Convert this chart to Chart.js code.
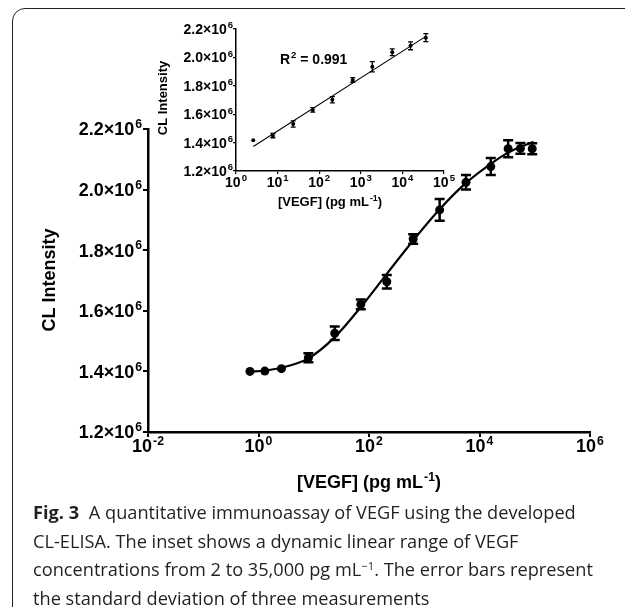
<!DOCTYPE html>
<html>
<head>
<meta charset="utf-8">
<script src="https://cdn.jsdelivr.net/npm/chart.js@4.4.1/dist/chart.umd.min.js"></script>
<style>
  html, body { margin: 0; padding: 0; background: #fff; }
  body { width: 625px; height: 607px; position: relative; overflow: hidden; }
  #marco {
    position: absolute; left: 12px; top: 8px; width: 660px; height: 614px;
    border: 1.5px solid #222; border-radius: 13px; box-sizing: border-box;
  }
  #principal { position: absolute; left: 0; top: 0; }
  #recuadro { position: absolute; left: 150px; top: 10px; }
  #pie {
    position: absolute; left: 33px; top: 498px;
    font-family: "Open Sans", sans-serif; font-size: 18.2px; line-height: 28.5px;
    color: #231f20; white-space: nowrap;
  }
  #pie b { font-weight: 700; margin-right: 5px; }
  #pie sup { font-size: 0.62em; line-height: 0; vertical-align: 0.55em; }
</style>
</head>
<body>
<div id="marco"></div>
<canvas id="principal" width="625" height="500"></canvas>
<canvas id="recuadro" width="320" height="210"></canvas>
<div id="pie">
  <b>Fig. 3</b> A quantitative immunoassay of VEGF using the developed<br>
  CL-ELISA. The inset shows a dynamic linear range of VEGF<br>
  concentrations from 2 to 35,000 pg mL<sup>−1</sup>. The error bars represent<br>
  the standard deviation of three measurements
</div>
<script>
// datos
const concPrincipal = [0.7, 1.3, 2.6, 8, 24, 71, 210, 630, 1900, 5700, 16000, 33000, 55000, 90000];
const intensidadPrincipal = [1.400e6, 1.401e6, 1.409e6, 1.445e6, 1.526e6, 1.621e6, 1.696e6, 1.837e6, 1.933e6, 2.024e6, 2.076e6, 2.135e6, 2.136e6, 2.135e6];
const errorPrincipal = [0.003e6, 0.003e6, 0.004e6, 0.015e6, 0.022e6, 0.016e6, 0.022e6, 0.016e6, 0.036e6, 0.024e6, 0.028e6, 0.028e6, 0.018e6, 0.018e6];

// curva de ajuste
const curvaConc = [0.7, 1.3, 2.6, 8, 24, 71, 210, 630, 1900, 5700, 16000, 33000, 55000, 95000];
const curvaIntensidad = [1.399e6, 1.403e6, 1.412e6, 1.443e6, 1.513e6, 1.612e6, 1.722e6, 1.832e6, 1.935e6, 2.022e6, 2.085e6, 2.122e6, 2.141e6, 2.158e6];

const concRecuadro = [2.6, 7.7, 23.7, 70, 207, 640, 1890, 5690, 15700, 36600];
const intensidadRecuadro = [1.416e6, 1.449e6, 1.531e6, 1.630e6, 1.702e6, 1.841e6, 1.934e6, 2.036e6, 2.082e6, 2.139e6];
const errorRecuadro = [0.003e6, 0.015e6, 0.022e6, 0.016e6, 0.022e6, 0.016e6, 0.036e6, 0.024e6, 0.028e6, 0.028e6];

const ajusteX = [2.6, 36600];
const ajusteY = [1.372e6, 2.148e6];

const ticksXPrincipal = [0.01, 1, 100, 1e4, 1e6];
const etiquetasXPrincipal = ["10^-2", "10^0", "10^2", "10^4", "10^6"];
const ticksXRecuadro = [1, 10, 100, 1e3, 1e4, 1e5];
const etiquetasXRecuadro = ["10^0", "10^1", "10^2", "10^3", "10^4", "10^5"];
const ticksY = [1.2e6, 1.4e6, 1.6e6, 1.8e6, 2.0e6, 2.2e6];
const etiquetasY = ["1.2×10^6", "1.4×10^6", "1.6×10^6", "1.8×10^6", "2.0×10^6", "2.2×10^6"];

const FUENTE = '"Liberation Sans", Arial, sans-serif';
const SUP = 0.68;

// texto con exponente: "base^exp"
function textoSup(ctx, texto, x, y, tam, alinear) {
  const [base, exp] = texto.split("^");
  const tamSup = tam * SUP;
  ctx.font = "bold " + tam + "px " + FUENTE;
  const wBase = ctx.measureText(base).width;
  ctx.font = "bold " + tamSup + "px " + FUENTE;
  const wExp = exp ? ctx.measureText(exp).width + 1 : 0;
  const total = wBase + wExp;
  let x0 = x;
  if (alinear === "center") x0 = x - total / 2;
  if (alinear === "right") x0 = x - total;
  ctx.textAlign = "left";
  ctx.textBaseline = "alphabetic";
  ctx.font = "bold " + tam + "px " + FUENTE;
  ctx.fillText(base, x0, y);
  if (exp) {
    ctx.font = "bold " + tamSup + "px " + FUENTE;
    ctx.fillText(exp, x0 + wBase + 1, y - tam * 0.4);
  }
  return total;
}

const pluginEjes = {
  id: "ejes",
  afterDatasetsDraw(chart, args, o) {
    const ctx = chart.ctx;
    const sx = chart.scales.x, sy = chart.scales.y;
    ctx.save();
    ctx.strokeStyle = "#000";
    ctx.lineWidth = o.grosorError;
    o.errores.forEach((e, i) => {
      const px = sx.getPixelForValue(o.xs[i]);
      const arriba = sy.getPixelForValue(o.ys[i] + e);
      const abajo = sy.getPixelForValue(o.ys[i] - e);
      if (abajo - arriba < 3) return;
      ctx.beginPath();
      ctx.moveTo(px, arriba); ctx.lineTo(px, abajo);
      ctx.moveTo(px - o.tapa, arriba); ctx.lineTo(px + o.tapa, arriba);
      ctx.moveTo(px - o.tapa, abajo); ctx.lineTo(px + o.tapa, abajo);
      ctx.stroke();
    });
    ctx.restore();
  },
  afterDraw(chart, args, o) {
    const ctx = chart.ctx;
    const sx = chart.scales.x, sy = chart.scales.y;
    ctx.save();
    ctx.fillStyle = "#000";
    o.ticksX.forEach((v, i) => {
      textoSup(ctx, o.etiquetasX[i], sx.getPixelForValue(v), o.yEtiquetaX, o.tam, "center");
    });
    ticksY.forEach((v, i) => {
      textoSup(ctx, etiquetasY[i], o.xEtiquetaY, sy.getPixelForValue(v) + o.tam * 0.36, o.tam, "right");
    });

    // titulo del eje x con el parentesis final
    const tt = o.tamTitulo;
    ctx.font = "bold " + tt + "px " + FUENTE;
    const wT = ctx.measureText("[VEGF] (pg mL").width;
    const wP = ctx.measureText(")").width;
    ctx.font = "bold " + (tt * SUP) + "px " + FUENTE;
    const wS = ctx.measureText("-1").width + 1;
    const x0 = o.tituloX[0] - (wT + wS + wP) / 2;
    textoSup(ctx, "[VEGF] (pg mL^-1", x0, o.tituloX[1], tt, "left");
    ctx.font = "bold " + tt + "px " + FUENTE;
    ctx.textAlign = "left";
    ctx.fillText(")", x0 + wT + wS, o.tituloX[1]);

    ctx.translate(o.tituloY[0], o.tituloY[1]);
    ctx.rotate(-Math.PI / 2);
    ctx.textAlign = "center";
    ctx.textBaseline = "middle";
    ctx.font = "bold " + tt + "px " + FUENTE;
    ctx.fillText("CL Intensity", 0, 0);
    ctx.restore();

    if (o.r2) {
      ctx.save();
      ctx.fillStyle = "#000";
      const w = textoSup(ctx, "R^2", o.r2[0], o.r2[1], o.tam, "left");
      ctx.font = "bold " + o.tam + "px " + FUENTE;
      ctx.textAlign = "left";
      ctx.fillText(" = 0.991", o.r2[0] + w, o.r2[1]);
      ctx.restore();
    }
  }
};

function escalas(ticksX, minX, maxX, grosor, largo) {
  return {
    x: {
      type: "logarithmic", min: minX, max: maxX,
      afterBuildTicks: s => { s.ticks = ticksX.map(v => ({ value: v })); },
      afterFit: s => { s.height = largo; },
      ticks: { display: false },
      grid: { drawOnChartArea: false, drawTicks: true, tickLength: largo, color: "#000", lineWidth: grosor * 0.8 },
      border: { color: "#000", width: grosor }
    },
    y: {
      type: "linear", min: 1.2e6, max: 2.2e6,
      afterBuildTicks: s => { s.ticks = ticksY.map(v => ({ value: v })); },
      afterFit: s => { s.width = largo; },
      ticks: { display: false },
      grid: { drawOnChartArea: false, drawTicks: true, tickLength: largo, color: "#000", lineWidth: grosor * 0.8 },
      border: { color: "#000", width: grosor }
    }
  };
}

new Chart(document.getElementById("principal"), {
  type: "scatter",
  data: {
    datasets: [{
      data: concPrincipal.map((c, i) => ({ x: c, y: intensidadPrincipal[i] })),
      pointRadius: 4.5,
      pointBackgroundColor: "#000",
      pointBorderWidth: 0
    }, {
      data: curvaConc.map((c, i) => ({ x: c, y: curvaIntensidad[i] })),
      showLine: true,
      cubicInterpolationMode: "monotone",
      borderColor: "#000",
      borderWidth: 2.2,
      pointRadius: 0
    }]
  },
  options: {
    responsive: false,
    animation: false,
    devicePixelRatio: 1,
    layout: { padding: { left: 143, right: 35, top: 129, bottom: 63 } },
    scales: escalas(ticksXPrincipal, 0.01, 1e6, 2.5, 5),
    plugins: {
      legend: { display: false },
      tooltip: { enabled: false },
      ejes: {
        xs: concPrincipal, ys: intensidadPrincipal, errores: errorPrincipal,
        grosorError: 2.5, tapa: 5,
        ticksX: ticksXPrincipal, etiquetasX: etiquetasXPrincipal,
        tam: 18, yEtiquetaX: 452, xEtiquetaY: 142,
        tamTitulo: 18, tituloX: [369, 488], tituloY: [50, 280]
      }
    }
  },
  plugins: [pluginEjes]
});

new Chart(document.getElementById("recuadro"), {
  type: "scatter",
  data: {
    datasets: [{
      data: concRecuadro.map((c, i) => ({ x: c, y: intensidadRecuadro[i] })),
      pointRadius: 2,
      pointBackgroundColor: "#000",
      pointBorderWidth: 0
    }, {
      data: ajusteX.map((c, i) => ({ x: c, y: ajusteY[i] })),
      showLine: true,
      borderColor: "#000",
      borderWidth: 1.1,
      pointRadius: 0
    }]
  },
  options: {
    responsive: false,
    animation: false,
    devicePixelRatio: 1,
    layout: { padding: { left: 83, right: 26, top: 19, bottom: 46 } },
    scales: escalas(ticksXRecuadro, 1, 1e5, 1.5, 3),
    plugins: {
      legend: { display: false },
      tooltip: { enabled: false },
      ejes: {
        xs: concRecuadro, ys: intensidadRecuadro, errores: errorRecuadro,
        grosorError: 1.3, tapa: 2.5,
        ticksX: ticksXRecuadro, etiquetasX: etiquetasXRecuadro,
        tam: 14, yEtiquetaX: 177, xEtiquetaY: 83,
        tamTitulo: 13, tituloX: [180, 196], tituloY: [13, 88],
        r2: [130, 54]
      }
    }
  },
  plugins: [pluginEjes]
});
</script>
</body>
</html>
